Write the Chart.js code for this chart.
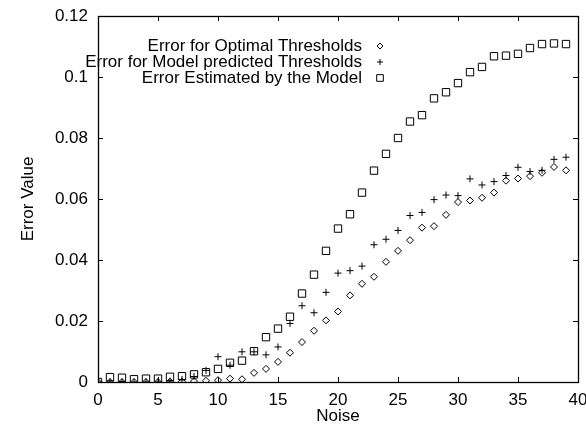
<!DOCTYPE html>
<html>
<head>
<meta charset="utf-8">
<script src="https://cdn.jsdelivr.net/npm/chart.js@4/dist/chart.umd.min.js"></script>
<style>
  html, body { margin: 0; padding: 0; background: #fff; }
  #wrap { width: 586px; height: 425px; }
</style>
</head>
<body>
<div id="wrap"><canvas id="c" width="586" height="425"></canvas></div>
<script>
const noise = [0, 1, 2, 3, 4, 5, 6, 7, 8, 9, 10, 11, 12, 13, 14, 15, 16, 17, 18, 19,
    20, 21, 22, 23, 24, 25, 26, 27, 28, 29, 30, 31, 32, 33, 34, 35, 36, 37, 38, 39];

const optimalErr = [0, 0, 0, 0, 0, 0, 0.0001, 0.0001, 0.0003, 0.0004,
    0.0006, 0.0011, 0.0009, 0.003, 0.0043, 0.0066, 0.0096, 0.0131, 0.0168, 0.0202,
    0.0231, 0.0284, 0.0322, 0.0345, 0.0394, 0.043, 0.0465, 0.0506, 0.0511, 0.0548,
    0.059, 0.0595, 0.0604, 0.0621, 0.066, 0.0667, 0.0675, 0.0686, 0.0705, 0.0694];

const predictedErr = [0, 0, 0, 0, 0, 0, 0.0003, 0.0008, 0.0018, 0.0038,
    0.0083, 0.0055, 0.0099, 0.0099, 0.0089, 0.0115, 0.0192, 0.025, 0.0227, 0.0294,
    0.0357, 0.0365, 0.038, 0.045, 0.0468, 0.0497, 0.0546, 0.0556, 0.0598, 0.0613,
    0.0611, 0.0666, 0.0646, 0.0657, 0.0677, 0.0704, 0.069, 0.0694, 0.073, 0.0737];

const estimatedErr = [0, 0.0016, 0.0014, 0.0009, 0.0011, 0.0011, 0.0017, 0.0019, 0.0025, 0.0032,
    0.0043, 0.0063, 0.007, 0.0101, 0.0147, 0.0175, 0.0214, 0.029, 0.0352, 0.043,
    0.0503, 0.055, 0.0621, 0.0693, 0.0748, 0.08, 0.0854, 0.0875, 0.093, 0.095,
    0.098, 0.1016, 0.1033, 0.1068, 0.107, 0.1076, 0.1095, 0.1108, 0.111, 0.1108];

const seriesLabels = [
    "Error for Optimal Thresholds",
    "Error for Model predicted Thresholds",
    "Error Estimated by the Model"
];

const FONT = "'Liberation Sans', Arial, Helvetica, sans-serif";

function pts(ys) {
    return noise.map(function (x, i) { return { x: x, y: ys[i] }; });
}

// gnuplot style frame: box with inward ticks mirrored on all sides, plus key
const framePlugin = {
    id: "frame",
    afterDraw(chart) {
        const ctx = chart.ctx;
        const a = chart.chartArea;
        const xs = chart.scales.x;
        const ys = chart.scales.y;
        const len = 5;
        ctx.save();
        ctx.strokeStyle = "#000";
        ctx.lineWidth = 1;
        ctx.beginPath();
        xs.ticks.forEach(function (t) {
            const px = Math.round(xs.getPixelForValue(t.value)) + 0.5;
            ctx.moveTo(px, a.bottom);
            ctx.lineTo(px, a.bottom - len);
            ctx.moveTo(px, a.top);
            ctx.lineTo(px, a.top + len);
        });
        ys.ticks.forEach(function (t) {
            const py = Math.round(ys.getPixelForValue(t.value)) + 0.5;
            ctx.moveTo(a.left, py);
            ctx.lineTo(a.left + len, py);
            ctx.moveTo(a.right, py);
            ctx.lineTo(a.right - len, py);
        });
        ctx.stroke();
        ctx.lineWidth = 1.3;
        ctx.strokeRect(Math.round(a.left) + 0.5, Math.round(a.top) + 0.5,
            Math.round(a.right - a.left), Math.round(a.bottom - a.top));

        // key: text right-aligned, marker to its right
        ctx.font = "17px " + FONT;
        ctx.textAlign = "right";
        ctx.textBaseline = "middle";
        chart.data.datasets.forEach(function (ds, i) {
            const ty = a.top + 30 + i * 16;
            const tx = a.left + 264;
            ctx.fillStyle = "#000";
            ctx.fillText(ds.label, tx, ty);
            ctx.fillStyle = "rgba(0,0,0,0)";
            ctx.strokeStyle = "#000";
            ctx.lineWidth = 1;
            Chart.helpers.drawPoint(ctx, {
                pointStyle: ds.pointStyle,
                radius: ds.pointRadius - 0.5,
                borderWidth: 1
            }, tx + 18, ty);
        });
        ctx.restore();
    }
};

new Chart(document.getElementById("c"), {
    type: "scatter",
    data: {
        datasets: [
            { label: seriesLabels[0], data: pts(optimalErr), pointStyle: "rectRot", pointRadius: 3.5,
              borderColor: "#000", backgroundColor: "rgba(0,0,0,0)", borderWidth: 1 },
            { label: seriesLabels[1], data: pts(predictedErr), pointStyle: "cross", pointRadius: 3.5,
              borderColor: "#000", backgroundColor: "rgba(0,0,0,0)", borderWidth: 1 },
            { label: seriesLabels[2], data: pts(estimatedErr), pointStyle: "rect", pointRadius: 5.2,
              borderColor: "#000", backgroundColor: "rgba(0,0,0,0)", borderWidth: 1 }
        ]
    },
    options: {
        responsive: false,
        animation: false,
        events: [],
        layout: { padding: { top: 16, right: 8, left: 0, bottom: 0 } },
        plugins: {
            legend: { display: false },
            tooltip: { enabled: false }
        },
        scales: {
            x: {
                type: "linear",
                min: 0,
                max: 40,
                grid: { display: false, drawTicks: false },
                border: { display: false },
                ticks: { stepSize: 5, color: "#000", padding: 8, font: { family: FONT, size: 17 } },
                title: { display: true, text: "Noise", color: "#000", padding: { top: 0, bottom: 0 },
                         font: { family: FONT, size: 17, lineHeight: 1 } },
                afterFit: function (s) { s.height = 43; s.paddingLeft = 0; s.paddingRight = 0; }
            },
            y: {
                min: 0,
                max: 0.12,
                grid: { display: false, drawTicks: false },
                border: { display: false },
                ticks: {
                    stepSize: 0.02, color: "#000", padding: 10, font: { family: FONT, size: 17 },
                    callback: function (v) { return String(+v.toFixed(2)); }
                },
                title: { display: true, text: "Error Value", color: "#000", padding: { top: 20, bottom: 0 },
                         font: { family: FONT, size: 17, lineHeight: 1 } },
                afterFit: function (s) { s.width = 98; s.paddingTop = 0; s.paddingBottom = 0; }
            }
        }
    },
    plugins: [framePlugin]
});
</script>
</body>
</html>
